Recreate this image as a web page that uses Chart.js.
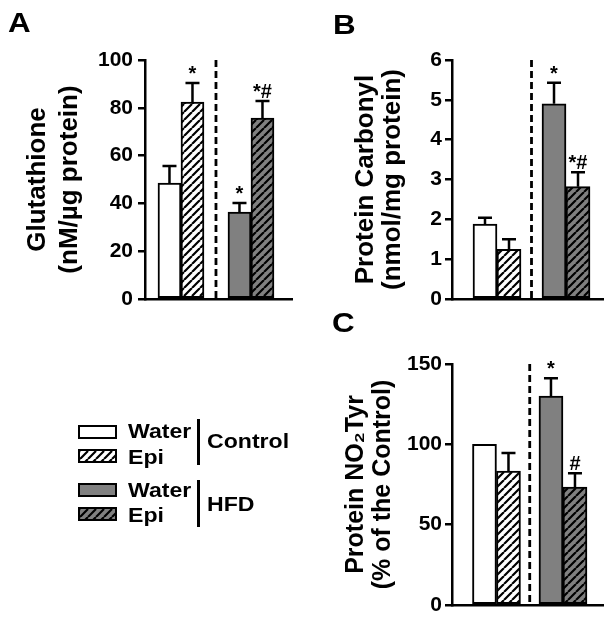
<!DOCTYPE html>
<html>
<head>
<meta charset="utf-8">
<script src="https://cdn.jsdelivr.net/npm/chart.js@4.4.1/dist/chart.umd.min.js"></script>
<style>
html,body{margin:0;padding:0;background:#fff;}
body{width:616px;height:625px;position:relative;overflow:hidden;font-family:"Liberation Sans",Arial,Helvetica,sans-serif;color:#000;}
canvas.cv{position:absolute;left:0;top:0;}
.letter{position:absolute;font-weight:bold;font-size:28px;line-height:28px;transform:scaleX(1.12);transform-origin:left top;}
.lt{position:absolute;font-weight:bold;font-size:21px;line-height:21px;white-space:nowrap;transform:scaleX(1.1);transform-origin:left top;}
.box{position:absolute;box-sizing:border-box;border:2px solid #000;width:39px;height:14px;}
.vline{position:absolute;background:#000;width:3px;}
</style>
</head>
<body>
<canvas id="cA" class="cv" width="616" height="625"></canvas>
<canvas id="cB" class="cv" width="616" height="625"></canvas>
<canvas id="cC" class="cv" width="616" height="625"></canvas>

<div class="letter" style="left:8px;top:9px;">A</div>
<div class="letter" style="left:333px;top:11px;">B</div>
<div class="letter" style="left:332px;top:309px;">C</div>

<div id="lg1" class="box" style="left:78px;top:425px;"></div>
<div id="lg2" class="box" style="left:78px;top:449px;"></div>
<div id="lg3" class="box" style="left:78px;top:483px;"></div>
<div id="lg4" class="box" style="left:78px;top:507px;"></div>
<div class="lt" style="left:128px;top:420px;">Water</div>
<div class="lt" style="left:128px;top:446px;">Epi</div>
<div class="lt" style="left:128px;top:479px;">Water</div>
<div class="lt" style="left:128px;top:504px;">Epi</div>
<div class="vline" style="left:197px;top:419px;height:46px;"></div>
<div class="vline" style="left:197px;top:480px;height:47px;"></div>
<div class="lt" style="left:207px;top:430px;">Control</div>
<div class="lt" style="left:207px;top:493px;">HFD</div>

<script>
const FONT = '"Liberation Sans", Arial, Helvetica, sans-serif';
Chart.defaults.font.family = FONT;
Chart.defaults.color = '#000';

// ---- data ----
const groups = ['Control', 'HFD'];
const treatments = ['Water', 'Epi'];

// Panel A: Glutathione (nM/µg protein)
const glutathioneWater = [48.5, 36.4];
const glutathioneEpi = [82.4, 75.7];
const glutathioneWaterSem = [7.1, 3.8];
const glutathioneEpiSem = [8.0, 7.1];
const glutathioneWaterSig = ['', '*'];
const glutathioneEpiSig = ['*', '*#'];
const glutathioneTicks = [0, 20, 40, 60, 80, 100];

// Panel B: Protein carbonyl (nmol/mg protein)
const carbonylWater = [1.88, 4.90];
const carbonylEpi = [1.25, 2.82];
const carbonylWaterSem = [0.16, 0.53];
const carbonylEpiSem = [0.25, 0.36];
const carbonylWaterSig = ['', '*'];
const carbonylEpiSig = ['', '*#'];
const carbonylTicks = [0, 1, 2, 3, 4, 5, 6];

// Panel C: Protein NO2Tyr (% of the Control)
const no2TyrWater = [100, 130];
const no2TyrEpi = [83.4, 73.4];
const no2TyrWaterSem = [0, 11.2];
const no2TyrEpiSem = [11.2, 8.6];
const no2TyrWaterSig = ['', '*'];
const no2TyrEpiSig = ['', '#'];
const no2TyrTicks = [0, 50, 100, 150];

// ---- styles ----
const WHITE = '#ffffff';
const GREY = '#808080';
function hatchCanvas(bg) {
  const s = 8;
  const c = document.createElement('canvas');
  c.width = s; c.height = s;
  const g = c.getContext('2d');
  g.fillStyle = bg; g.fillRect(0, 0, s, s);
  g.strokeStyle = '#000'; g.lineWidth = 2.2;
  g.beginPath();
  for (let k = -1; k <= 1; k++) { g.moveTo(k * s, s); g.lineTo(k * s + s, 0); }
  g.stroke();
  return c;
}
const hwc = hatchCanvas(WHITE), hgc = hatchCanvas(GREY);
const pctx = document.createElement('canvas').getContext('2d');
const HATCH_WHITE = pctx.createPattern(hwc, 'repeat');
const HATCH_GREY = pctx.createPattern(hgc, 'repeat');

document.getElementById('lg1').style.background = WHITE;
document.getElementById('lg2').style.backgroundImage = 'url(' + hwc.toDataURL() + ')';
document.getElementById('lg3').style.background = GREY;
document.getElementById('lg4').style.backgroundImage = 'url(' + hgc.toDataURL() + ')';

// ---- plugins ----
const dividerPlugin = {
  id: 'divider',
  beforeDatasetsDraw(chart) {
    const {ctx, chartArea: {top, bottom}, scales: {x}} = chart;
    const px = x.getPixelForValue(0.5);
    ctx.save();
    ctx.setLineDash([7, 4]);
    ctx.lineWidth = 2.8;
    ctx.strokeStyle = '#000';
    ctx.beginPath();
    ctx.moveTo(px, top);
    ctx.lineTo(px, bottom);
    ctx.stroke();
    ctx.restore();
  }
};
const errPlugin = {
  id: 'errbars',
  afterDatasetsDraw(chart) {
    const {ctx, scales: {y}} = chart;
    ctx.save();
    ctx.strokeStyle = '#000';
    ctx.fillStyle = '#000';
    ctx.lineWidth = 2.5;
    ctx.font = 'bold 20px ' + FONT;
    ctx.textAlign = 'center';
    ctx.textBaseline = 'alphabetic';
    chart.data.datasets.forEach((ds, di) => {
      const meta = chart.getDatasetMeta(di);
      meta.data.forEach((bar, i) => {
        const v = ds.data[i].y, e = ds.errors[i];
        const yTop = y.getPixelForValue(v + e);
        const yBar = y.getPixelForValue(v);
        if (e > 0) {
          ctx.beginPath();
          ctx.moveTo(bar.x, yBar);
          ctx.lineTo(bar.x, yTop);
          ctx.moveTo(bar.x - 7, yTop);
          ctx.lineTo(bar.x + 7, yTop);
          ctx.stroke();
        }
        if (ds.sig[i]) ctx.fillText(ds.sig[i], bar.x, yTop - 3);
      });
    });
    ctx.restore();
  }
};

function makeChart(id, cfg) {
  const mk = (label, vals, sem, sig, colors) => ({
    label,
    data: vals.map((v, i) => ({x: i, y: v})),
    errors: sem,
    sig,
    backgroundColor: colors,
    borderColor: '#000',
    borderWidth: 2,
    borderSkipped: false,
    barThickness: cfg.barThickness
  });
  return new Chart(document.getElementById(id), {
    type: 'bar',
    data: {
      labels: groups,
      datasets: [
        mk(treatments[0], cfg.water, cfg.waterSem, cfg.waterSig, [WHITE, GREY]),
        mk(treatments[1], cfg.epi, cfg.epiSem, cfg.epiSig, [HATCH_WHITE, HATCH_GREY])
      ]
    },
    options: {
      responsive: false,
      animation: false,
      devicePixelRatio: 1,
      events: [],
      layout: {padding: cfg.padding},
      plugins: {legend: {display: false}, tooltip: {enabled: false}},
      scales: {
        x: {
          type: 'linear', bounds: 'data', offset: false,
          min: cfg.xMin, max: cfg.xMax,
          ticks: {display: false},
          grid: {display: false},
          border: {display: true, color: '#000', width: 2.5},
          afterFit: s => { s.height = 20; }
        },
        y: {
          type: 'linear', bounds: 'data',
          min: 0, max: cfg.ticks[cfg.ticks.length - 1],
          afterBuildTicks: s => { s.ticks = cfg.ticks.map(v => ({value: v})); },
          ticks: {font: {size: 21, weight: 'bold'}, color: '#000', padding: cfg.tickPad},
          grid: {drawOnChartArea: false, drawTicks: true, tickLength: 7, color: '#000', lineWidth: 2.5},
          border: {display: true, color: '#000', width: 2.5},
          title: {
            display: true,
            text: cfg.title,
            color: '#000',
            font: {size: cfg.titleSize, weight: 'bold', lineHeight: cfg.titleLH / cfg.titleSize},
            padding: {top: cfg.titlePad, bottom: 0}
          },
          afterFit: s => { s.width = cfg.yWidth; }
        }
      }
    },
    plugins: [dividerPlugin, errPlugin]
  });
}

makeChart('cA', {
  water: glutathioneWater, epi: glutathioneEpi,
  waterSem: glutathioneWaterSem, epiSem: glutathioneEpiSem,
  waterSig: glutathioneWaterSig, epiSig: glutathioneEpiSig,
  ticks: glutathioneTicks,
  title: ['Glutathione', '(nM/\u00B5g protein)'],
  titleSize: 26, titleLH: 32, titlePad: 22,
  yWidth: 145, tickPad: 5,
  padding: {left: 0, top: 60, right: 324, bottom: 306},
  xMin: -0.514, xMax: 1.586, barThickness: 23
});
makeChart('cB', {
  water: carbonylWater, epi: carbonylEpi,
  waterSem: carbonylWaterSem, epiSem: carbonylEpiSem,
  waterSig: carbonylWaterSig, epiSig: carbonylEpiSig,
  ticks: carbonylTicks,
  title: ['Protein Carbonyl', '(nmol/mg protein)'],
  titleSize: 26, titleLH: 27, titlePad: 52,
  yWidth: 152, tickPad: 3,
  padding: {left: 300, top: 60, right: 13, bottom: 306},
  xMin: -0.652, xMax: 1.536, barThickness: 24
});
makeChart('cC', {
  water: no2TyrWater, epi: no2TyrEpi,
  waterSem: no2TyrWaterSem, epiSem: no2TyrEpiSem,
  waterSig: no2TyrWaterSig, epiSig: no2TyrEpiSig,
  ticks: no2TyrTicks,
  title: ['Protein NO\u2082Tyr', '(% of the Control)'],
  titleSize: 25, titleLH: 27, titlePad: 43,
  yWidth: 152, tickPad: 3,
  padding: {left: 300, top: 364, right: 13, bottom: 0},
  xMin: -0.669, xMax: 1.602, barThickness: 24
});
</script>
</body>
</html>
